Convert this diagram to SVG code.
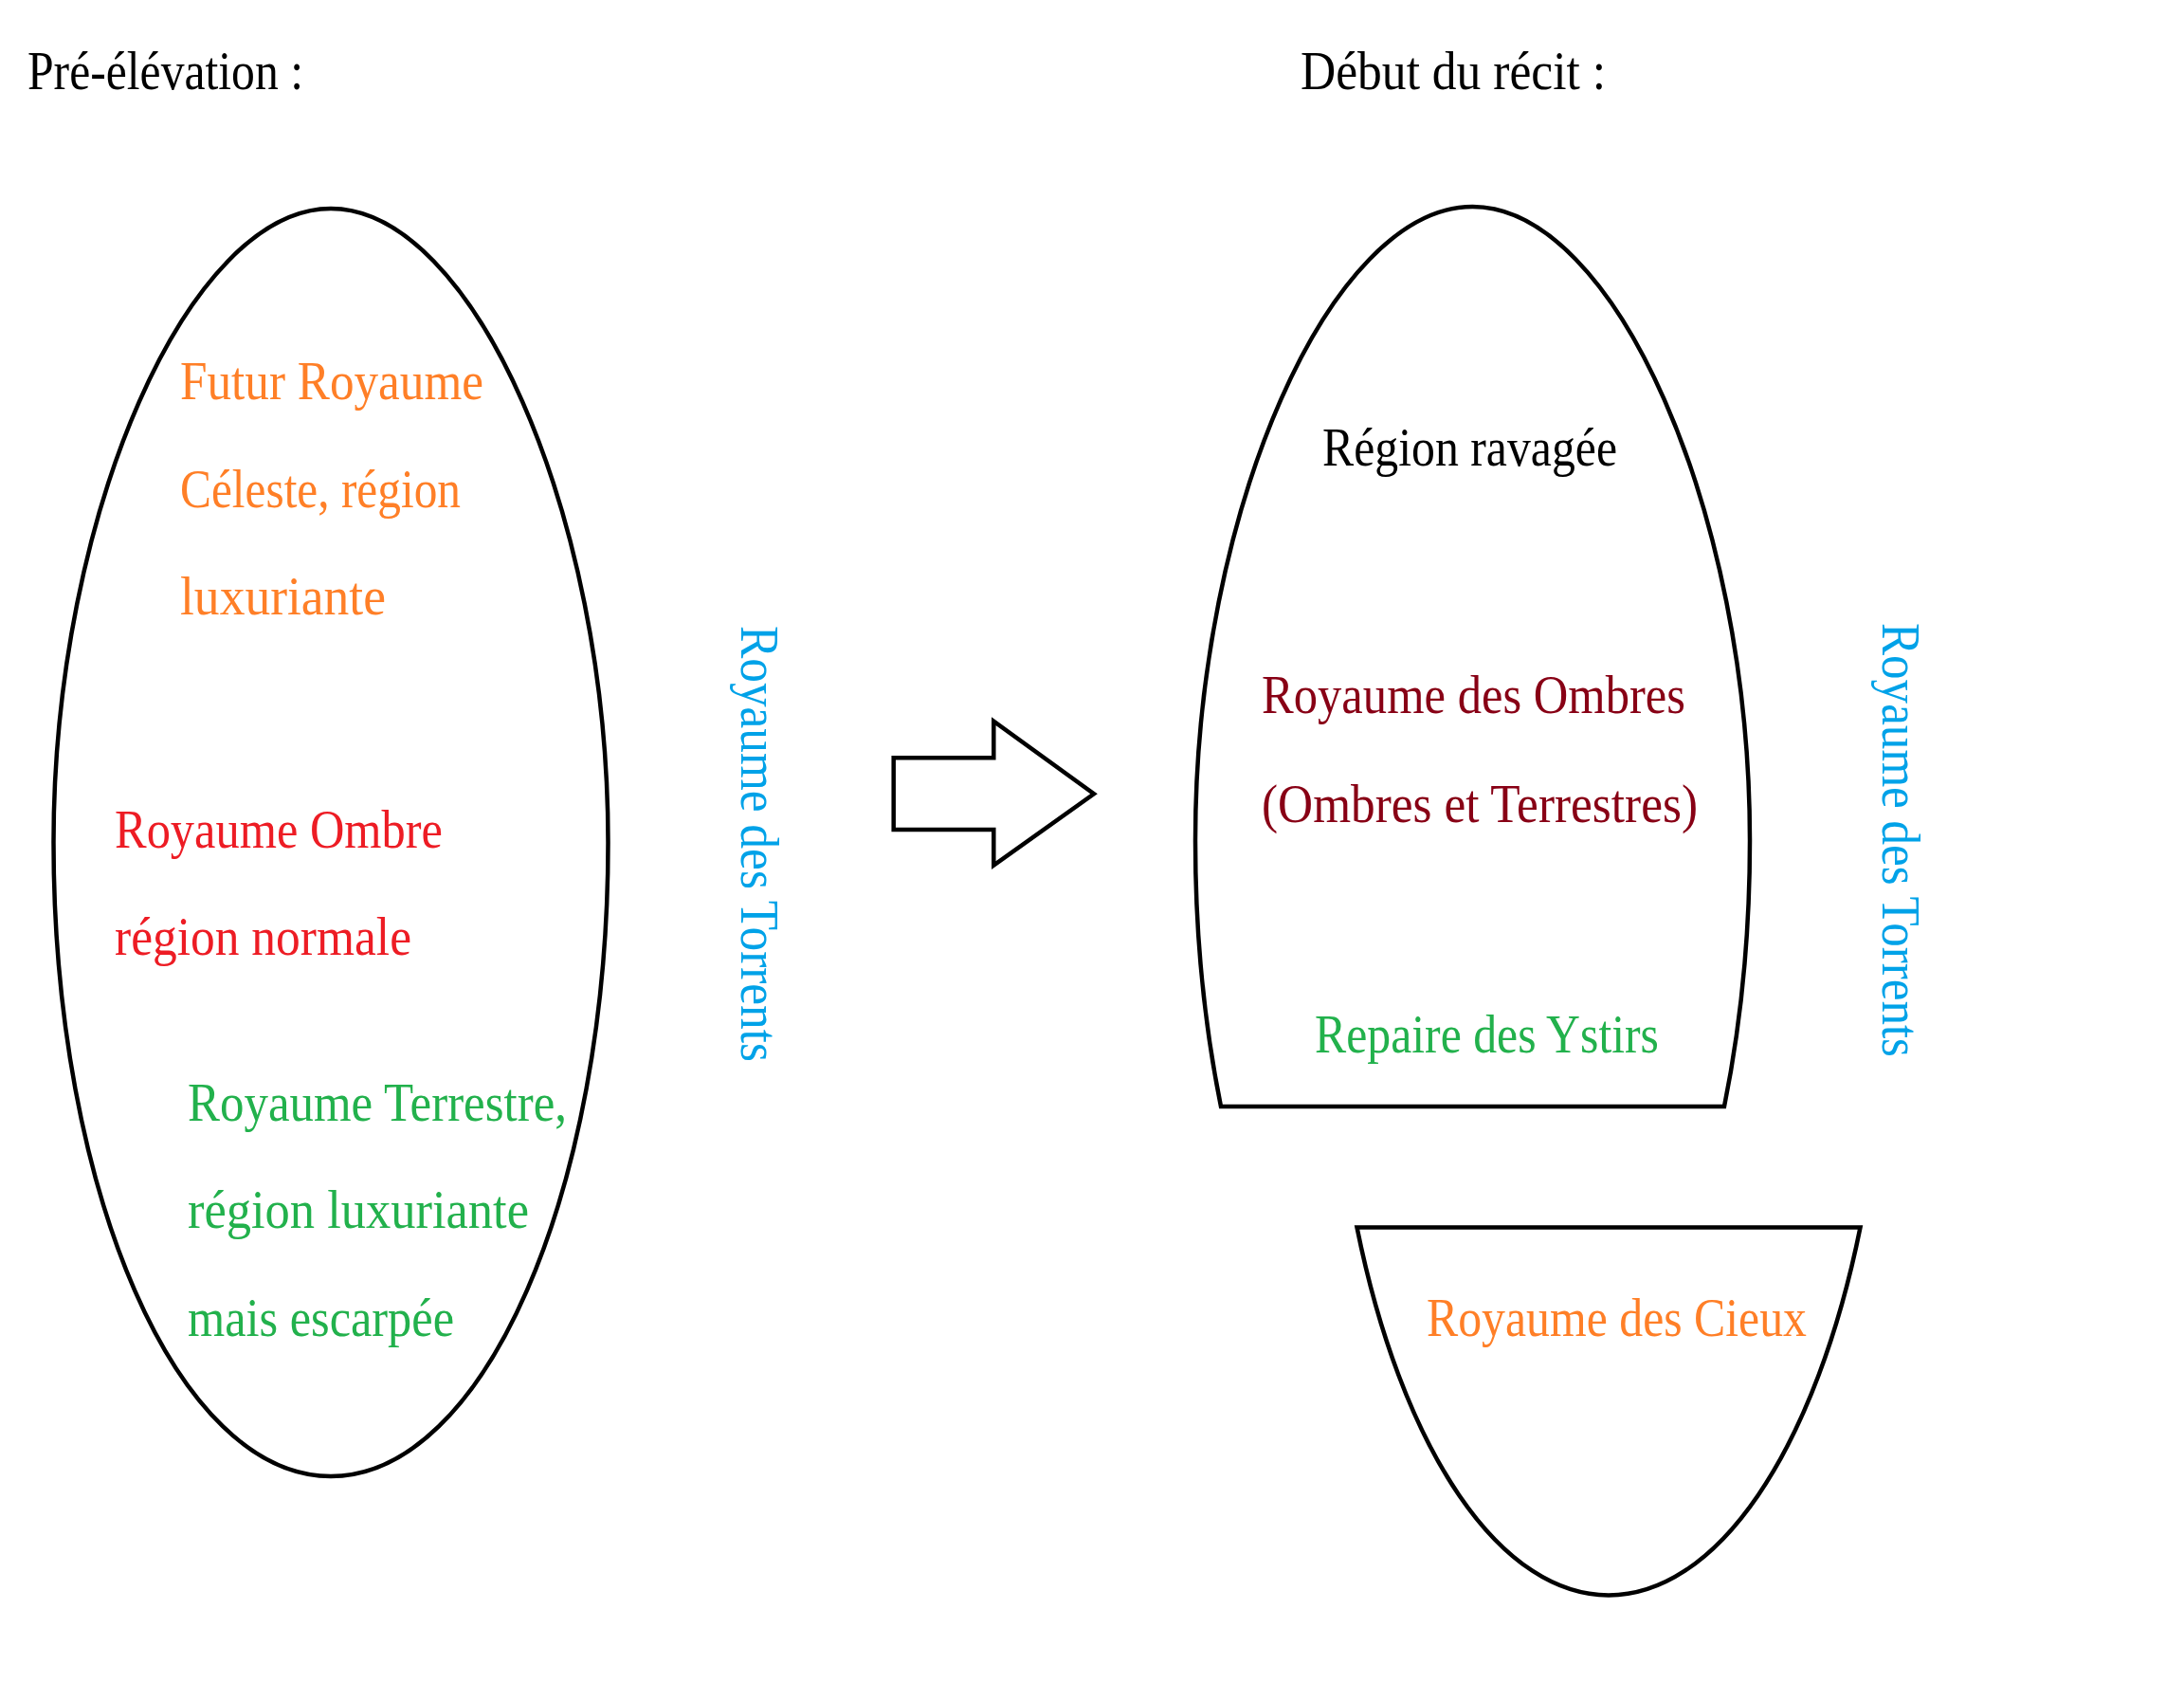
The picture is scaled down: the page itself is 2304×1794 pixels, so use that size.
<svg xmlns="http://www.w3.org/2000/svg" width="2304" height="1794" viewBox="0 0 2304 1794">
<style>
.shape{fill:none;stroke:#000;stroke-width:4.5;stroke-linejoin:miter}
text{font-family:"Liberation Serif","DejaVu Serif",serif;font-size:56px}
.blk{fill:#000}.org{fill:#FF7F27}.red{fill:#ED1C24}.grn{fill:#22B14C}.blu{fill:#00A2E8}.drd{fill:#880015}
</style>
<rect width="2304" height="1794" fill="#fff"/>
<g id="titles">
<text class="blk" x="29" y="94" textLength="291" lengthAdjust="spacingAndGlyphs">Pré-élévation :</text>
<text class="blk" x="1372" y="94" textLength="322" lengthAdjust="spacingAndGlyphs">Début du récit :</text>
</g>
<g id="pre-elevation">
<path class="shape" d="M56.5 888.5 C56.5 540 200 220 349 220 C498 220 641.5 540 641.5 888.5 C641.5 1257.5 510.5 1557 349 1557 C187.5 1557 56.5 1257.5 56.5 888.5 Z"/>
<text class="org" x="190" y="421" textLength="320" lengthAdjust="spacingAndGlyphs">Futur Royaume</text>
<text class="org" x="190" y="535" textLength="296" lengthAdjust="spacingAndGlyphs">Céleste, région</text>
<text class="org" x="190" y="648" textLength="217" lengthAdjust="spacingAndGlyphs">luxuriante</text>
<text class="red" x="121" y="894" textLength="346" lengthAdjust="spacingAndGlyphs">Royaume Ombre</text>
<text class="red" x="121" y="1007" textLength="313" lengthAdjust="spacingAndGlyphs">région normale</text>
<text class="grn" x="198" y="1182" textLength="400" lengthAdjust="spacingAndGlyphs">Royaume Terrestre,</text>
<text class="grn" x="198" y="1295" textLength="360" lengthAdjust="spacingAndGlyphs">région luxuriante</text>
<text class="grn" x="198" y="1409" textLength="281" lengthAdjust="spacingAndGlyphs">mais escarpée</text>
</g>
<g id="torrents-left">
<text class="blu" transform="translate(782,660) rotate(90)" x="0" y="0" textLength="460" lengthAdjust="spacingAndGlyphs">Royaume des Torrents</text>
</g>
<g id="debut-upper">
<path class="shape" d="M1288 1167 A292.5 668.5 0 0 1 1261 886.5 C1261 538 1404 218 1553.5 218 C1703 218 1846 538 1846 886.5 A292.5 668.5 0 0 1 1819 1167 Z"/>
<text class="blk" x="1395" y="491" textLength="311" lengthAdjust="spacingAndGlyphs">Région ravagée</text>
<text class="drd" x="1331" y="752" textLength="447" lengthAdjust="spacingAndGlyphs">Royaume des Ombres</text>
<text class="drd" x="1331" y="867" textLength="460" lengthAdjust="spacingAndGlyphs">(Ombres et Terrestres)</text>
<text class="grn" x="1387" y="1110" textLength="363" lengthAdjust="spacingAndGlyphs">Repaire des Ystirs</text>
</g>
<g id="debut-lower">
<path class="shape" d="M1431.5 1294.5 L1962.5 1294.5 A292.5 668.5 0 0 1 1431.5 1294.5 Z"/>
<text class="org" x="1505" y="1409" textLength="401" lengthAdjust="spacingAndGlyphs">Royaume des Cieux</text>
</g>
<g id="torrents-right">
<text class="blu" transform="translate(1986,657) rotate(90)" x="0" y="0" textLength="458" lengthAdjust="spacingAndGlyphs">Royaume des Torrents</text>
</g>
<g id="connectors">
<polygon class="shape" points="942.7,799.3 1048.3,799.3 1048.3,760.7 1154,837.3 1048.3,912.7 1048.3,875 942.7,875"/>
</g>
</svg>
